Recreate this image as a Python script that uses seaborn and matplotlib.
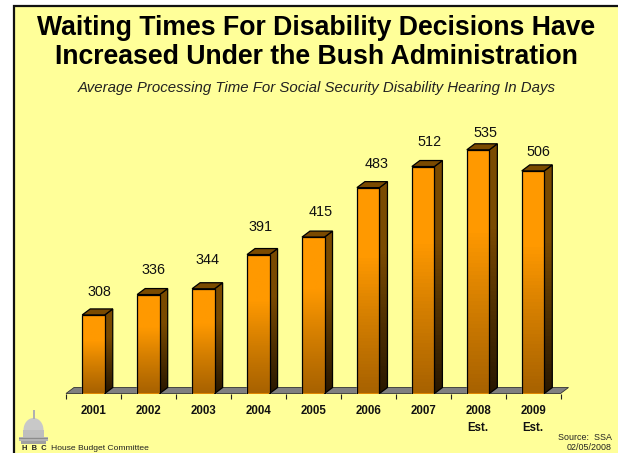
import matplotlib
matplotlib.use('Agg')
import matplotlib.pyplot as plt
from matplotlib.colors import LinearSegmentedColormap
from matplotlib.patches import Polygon, Rectangle, Ellipse
import numpy as np
import seaborn as sns

years = ['2001', '2002', '2003', '2004', '2005', '2006', '2007', '2008\nEst.', '2009\nEst.']
days = [308, 336, 344, 391, 415, 483, 512, 535, 506]

# hand placed labels in the original, pixels from the bar's top centre
label_dx = [6, 5, 4, 2, 7, 8, 6, 7, 5]
label_dy = [23, 25, 29, 28, 25, 24, 25, 17, 19]

W, H = 618, 453
sns.set_theme(style='white')
plt.rcParams['font.family'] = ['Liberation Sans', 'DejaVu Sans']

fig = plt.figure(figsize=(W / 100, H / 100), dpi=100, facecolor='white')
# slide background runs off the right and bottom edges
fig.add_artist(Rectangle((13.5 / W, -0.02), 0.99, 1.02 - 5.5 / H, transform=fig.transFigure,
                         facecolor='#FFFF99', edgecolor='#111111', linewidth=1.6, zorder=-1))

ax = fig.add_axes([66 / W, 1 - 393.5 / H, 494.5 / W, 291 / H])
ax.patch.set_alpha(0)

sns.barplot(x=years, y=days, color='#FF9900', width=0.41, saturation=1, ax=ax, zorder=3)
ax.set_xlim(-0.5, 8.5)
ax.set_ylim(200, 600)

# depth of the fake 3d extrusion, in data units
dx = 8 / 54.9
dy = 6 / 0.7275

front_cmap = LinearSegmentedColormap.from_list('front', ['#A86200', '#D07C00', '#FF9900', '#FF9900'])
side_cmap = LinearSegmentedColormap.from_list('side', ['#2A1800', '#503000', '#7A4A00', '#7A4A00'])


def shaded(verts, cmap, z):
    xs = [v[0] for v in verts]
    ys = [v[1] for v in verts]
    im = ax.imshow(np.linspace(1, 0, 64).reshape(-1, 1), cmap=cmap, aspect='auto', zorder=z,
                   extent=(min(xs), max(xs), min(ys), max(ys)), vmin=0, vmax=1)
    poly = Polygon(verts, closed=True, facecolor='none', edgecolor='black', linewidth=0.9, zorder=z + 0.1)
    ax.add_patch(poly)
    im.set_clip_path(poly)


# floor
ax.add_patch(Polygon([(-0.5, 200), (8.5, 200), (8.5 + dx, 200 + dy), (-0.5 + dx, 200 + dy)],
                     closed=True, facecolor='#808080', edgecolor='#333333', linewidth=0.6, zorder=2, clip_on=False))

for bar, val, ox, oy in zip(list(ax.patches[:len(days)]), days, label_dx, label_dy):
    x0, x1 = bar.get_x(), bar.get_x() + bar.get_width()
    shaded([(x1, 200), (x1 + dx, 200 + dy), (x1 + dx, val + dy), (x1, val)], side_cmap, 3)
    ax.add_patch(Polygon([(x0, val), (x1, val), (x1 + dx, val + dy), (x0 + dx, val + dy)], closed=True,
                         facecolor='#7A4A00', edgecolor='black', linewidth=0.9, zorder=3.2))
    shaded([(x0, 200), (x1, 200), (x1, val), (x0, val)], front_cmap, 4)
    ax.annotate(str(val), ((x0 + x1) / 2, val), xytext=(ox * 0.72, oy * 0.72), textcoords='offset points',
                ha='center', va='center', fontsize=10.4, color='#111111', zorder=6)

ax.set_xlim(-0.5, 8.5)
ax.set_ylim(200, 600)
sns.despine(ax=ax, left=True, bottom=True, top=True, right=True)
ax.set_yticks([])
ax.set_xlabel('')
ax.set_ylabel('')
ax.set_xticks(np.arange(-0.5, 9), minor=True)
ax.tick_params(axis='x', which='minor', length=3.5, width=0.8, color='#222222', bottom=True)
ax.tick_params(axis='x', which='major', length=0, pad=8)
for lab in ax.get_xticklabels():
    lab.set_fontsize(8.3)
    lab.set_fontweight('bold')
    lab.set_color('#111111')
    lab.set_linespacing(1.55)
    lab.set_verticalalignment('top')

fig.text(316 / W, 1 - 28 / H, 'Waiting Times For Disability Decisions Have', ha='center', va='center',
         fontsize=19.2, fontweight='bold', color='black')
fig.text(316 / W, 1 - 57 / H, 'Increased Under the Bush Administration', ha='center', va='center',
         fontsize=19.2, fontweight='bold', color='black')
fig.text(316.5 / W, 1 - 88 / H, 'Average Processing Time For Social Security Disability Hearing In Days',
         ha='center', va='center', fontsize=10.85, style='italic', color='#222222')

fig.text(51 / W, 1 - 448 / H, 'House Budget Committee', ha='left', va='center', fontsize=6.1, color='#222222')
fig.text(34 / W, 1 - 448.5 / H, 'H  B  C', ha='center', va='center', fontsize=5.4, fontweight='bold', color='#222222')
fig.text(612 / W, 1 - 438 / H, 'Source:  SSA', ha='right', va='center', fontsize=6.4, color='#222222')
fig.text(612 / W, 1 - 447 / H, '02/05/2008', ha='right', va='center', fontsize=6.4, color='#222222')


# capitol logo
def px_rect(x, y, w, h, col):
    fig.add_artist(Rectangle((x / W, 1 - (y + h) / H), w / W, h / H, transform=fig.transFigure,
                             facecolor=col, edgecolor='none'))


fig.add_artist(Ellipse((33.5 / W, 1 - 430 / H), 20 / W, 24 / H, transform=fig.transFigure,
                       facecolor='#C8C8C8', edgecolor='none'))
px_rect(23, 430, 21, 7, '#BEBEBE')
px_rect(19, 437, 29, 4, '#B4B4B4')
px_rect(19, 438, 29, 1, '#8C8C8C')
px_rect(32.5, 410, 2, 9, '#B0B0B0')
px_rect(21, 441, 25, 3, '#A0A0A0')

fig.savefig('out.png', dpi=100)
